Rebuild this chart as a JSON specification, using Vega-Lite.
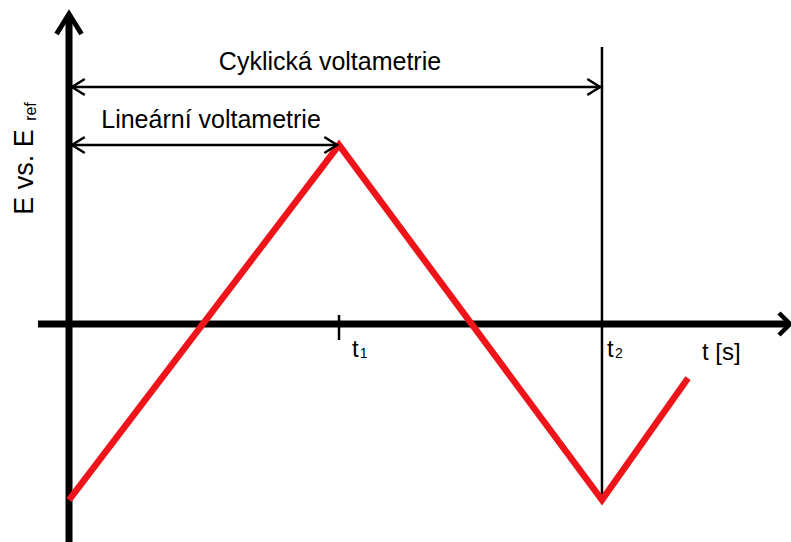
{
  "$schema": "https://vega.github.io/schema/vega-lite/v6.json",
  "width": 791,
  "height": 542,
  "autosize": {"type": "none"},
  "padding": 0,
  "background": "white",
  "config": {"view": {"stroke": null}},
  "datasets": {
    "axes": [
      {"name": "E axis", "t": 0, "E": -1.2179, "t_end": 0, "E_end": 1.72},
      {"name": "t axis", "t": -0.1148, "E": 0, "t_end": 2.664, "E_end": 0}
    ],
    "guides": [
      {"name": "t2 marker", "t": 1.974, "E": 1.5475, "t_end": 1.974, "E_end": -0.983},
      {"name": "cyclic span", "t": 0.011, "E": 1.324, "t_end": 1.974, "E_end": 1.324},
      {"name": "linear span", "t": 0.011, "E": 1.0, "t_end": 1.0, "E_end": 1.0},
      {"name": "t1 tick", "t": 1.0, "E": 0.0503, "t_end": 1.0, "E_end": -0.0894}
    ],
    "wave": [
      {"t": 0, "E": -0.983},
      {"t": 1.0, "E": 1.0},
      {"t": 1.974, "E": -0.983},
      {"t": 2.2926, "E": -0.3017}
    ],
    "arrowUp": [{"t": 0, "E": 1.7318}],
    "arrowRight": [{"t": 2.6704, "E": 0}],
    "spanLeft": [
      {"t": 0.011, "E": 1.324},
      {"t": 0.011, "E": 1.0}
    ],
    "spanRight": [
      {"t": 1.967, "E": 1.324},
      {"t": 0.993, "E": 1.0}
    ],
    "spanLabels": [
      {"label": "Cyklická voltametrie", "t": 0.9667, "E": 1.419},
      {"label": "Lineární voltametrie", "t": 0.526, "E": 1.095}
    ],
    "tickLabels": [
      {"label": "t", "t": 1.048, "E": -0.184},
      {"label": "t", "t": 1.993, "E": -0.184},
      {"label": "t [s]", "t": 2.344, "E": -0.201}
    ],
    "tickSubs": [
      {"label": "1", "t": 1.0768, "E": -0.19},
      {"label": "2", "t": 2.022, "E": -0.19}
    ],
    "yTitle": [{"label": "E vs. E", "t": -0.1333, "E": 0.849}],
    "yTitleSub": [{"label": "ref", "t": -0.124, "E": 1.187}]
  },
  "encoding": {
    "x": {"field": "t", "type": "quantitative", "scale": {"domain": [-0.2556, 2.6741], "nice": false, "zero": false}, "axis": null},
    "y": {"field": "E", "type": "quantitative", "scale": {"domain": [-1.2179, 1.8101], "nice": false, "zero": false}, "axis": null}
  },
  "layer": [
    {
      "data": {"name": "guides"},
      "mark": {"type": "rule", "color": "black", "strokeWidth": 2.5},
      "encoding": {"x2": {"field": "t_end"}, "y2": {"field": "E_end"}}
    },
    {
      "data": {"name": "axes"},
      "mark": {"type": "rule", "color": "black", "strokeWidth": 7},
      "encoding": {"x2": {"field": "t_end"}, "y2": {"field": "E_end"}}
    },
    {
      "data": {"name": "wave"},
      "mark": {"type": "line", "color": "#ee1419", "strokeWidth": 6.5, "strokeJoin": "miter"},
      "encoding": {}
    },
    {
      "data": {"name": "arrowUp"},
      "mark": {"type": "point", "shape": "M-1.6,-1L0,0L-1.6,1", "size": 625, "angle": 270, "filled": false, "stroke": "black", "strokeWidth": 5, "opacity": 1},
      "encoding": {}
    },
    {
      "data": {"name": "arrowRight"},
      "mark": {"type": "point", "shape": "M-1,-1L0,0L-1,1", "size": 484, "angle": 0, "filled": false, "stroke": "black", "strokeWidth": 4.5, "opacity": 1},
      "encoding": {}
    },
    {
      "data": {"name": "spanLeft"},
      "mark": {"type": "point", "shape": "M-1.6,-1L0,0L-1.6,1", "size": 256, "angle": 180, "filled": false, "stroke": "black", "strokeWidth": 2.5, "opacity": 1},
      "encoding": {}
    },
    {
      "data": {"name": "spanRight"},
      "mark": {"type": "point", "shape": "M-1.6,-1L0,0L-1.6,1", "size": 256, "angle": 0, "filled": false, "stroke": "black", "strokeWidth": 2.5, "opacity": 1},
      "encoding": {}
    },
    {
      "data": {"name": "spanLabels"},
      "mark": {"type": "text", "font": "Liberation Sans", "fontSize": 25, "align": "center", "baseline": "alphabetic", "color": "black"},
      "encoding": {"text": {"field": "label"}}
    },
    {
      "data": {"name": "tickLabels"},
      "mark": {"type": "text", "font": "Liberation Sans", "fontSize": 24, "align": "left", "baseline": "alphabetic", "color": "black"},
      "encoding": {"text": {"field": "label"}}
    },
    {
      "data": {"name": "tickSubs"},
      "mark": {"type": "text", "font": "Liberation Sans", "fontSize": 14, "align": "left", "baseline": "alphabetic", "color": "black"},
      "encoding": {"text": {"field": "label"}}
    },
    {
      "data": {"name": "yTitle"},
      "mark": {"type": "text", "font": "Liberation Sans", "fontSize": 27, "align": "center", "baseline": "alphabetic", "angle": 270, "color": "black"},
      "encoding": {"text": {"field": "label"}}
    },
    {
      "data": {"name": "yTitleSub"},
      "mark": {"type": "text", "font": "Liberation Sans", "fontSize": 16, "align": "center", "baseline": "alphabetic", "angle": 270, "color": "black"},
      "encoding": {"text": {"field": "label"}}
    }
  ]
}
